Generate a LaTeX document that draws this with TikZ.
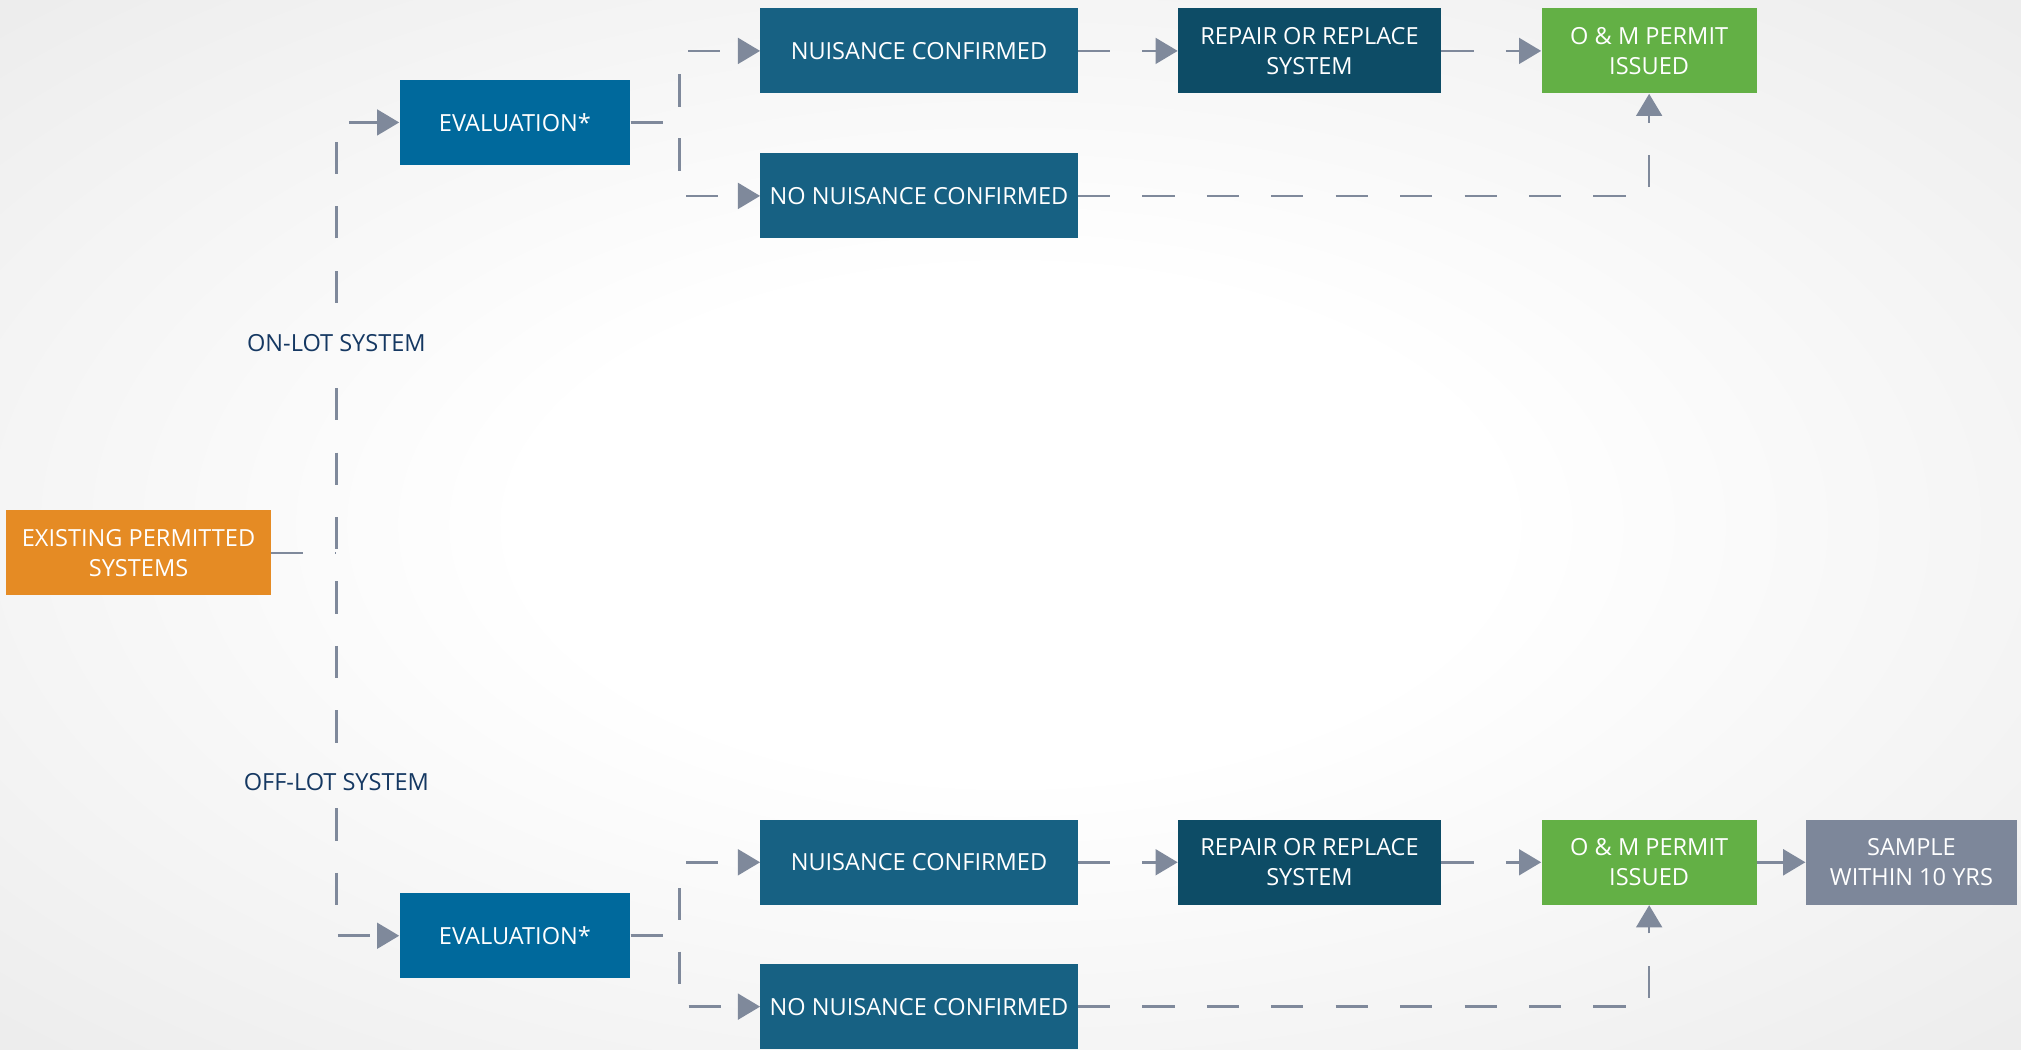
\documentclass[tikz,border=0pt]{standalone}
\usepackage{fontspec}
\setmainfont{Open Sans}
\usetikzlibrary{arrows.meta,positioning}

\definecolor{bgedge}{RGB}{236,236,236}
\definecolor{existorange}{RGB}{229,139,36}
\definecolor{evalblue}{RGB}{0,105,156}
\definecolor{nuisblue}{RGB}{23,97,131}
\definecolor{repairblue}{RGB}{13,76,102}
\definecolor{permitgreen}{RGB}{99,176,69}
\definecolor{samplegray}{RGB}{125,135,154}
\definecolor{linkgray}{RGB}{127,137,155}
\definecolor{lblnavy}{RGB}{21,56,98}
\pgfdeclareradialshading{bgradial}{\pgfpoint{0bp}{0bp}}{color(0bp)=(white); color(12bp)=(white); color(36bp)=(bgedge); color(50bp)=(bgedge)}

\begin{document}
\begin{tikzpicture}[x=0.25mm,y=-0.25mm,
		box/.style={fill=#1,text=white,inner sep=0pt,minimum height=16.5mm,align=center,font=\fontsize{13}{16.4}\selectfont},
		link/.style={draw=linkgray,line width=0.5mm,dash pattern=on 6.25mm off 6.25mm},
		arr/.style={-{Triangle[length=4.3mm,width=5mm]}},
		lbl/.style={text=lblnavy,inner xsep=1pt,inner ysep=2pt,text height=10pt,text depth=0pt,font=\fontsize{13}{16}\selectfont}]

		% background
		\shade[shading=bgradial] (0,0) rectangle (1568,814);
		\useasboundingbox (0,0) rectangle (1568,814);

		% start
		\node[box=existorange,minimum width=51.25mm] (exist) at (107.5,429) {EXISTING PERMITTED\\SYSTEMS};
		\node[lbl] (onlot) at (261,266) {ON-LOT SYSTEM};
		\node[lbl] (offlot) at (261,606) {OFF-LOT SYSTEM};

		%---------------------
		% on-lot
		%---------------------
		\node[box=evalblue,minimum width=44.75mm] (eval1) at (399.5,95) {EVALUATION*};
		\node[box=nuisblue,minimum width=61.5mm] (nc1) at (713,39.5) {NUISANCE CONFIRMED};
		\node[box=nuisblue,minimum width=61.5mm] (nn1) at (713,152) {NO NUISANCE CONFIRMED};
		\node[box=repairblue,minimum width=51mm] (rep1) at (1016,39.5) {REPAIR OR REPLACE\\SYSTEM};
		\node[box=permitgreen,minimum width=41.75mm] (om1) at (1279.5,39.5) {O \& M PERMIT\\ISSUED};
		\coordinate (split1) at (527,95);

		%---------------------
		% off-lot
		%---------------------
		\node[box=evalblue,minimum width=44.75mm] (eval2) at (399.5,726) {EVALUATION*};
		\node[box=nuisblue,minimum width=61.5mm] (nc2) at (713,669) {NUISANCE CONFIRMED};
		\node[box=nuisblue,minimum width=61.5mm] (nn2) at (713,781) {NO NUISANCE CONFIRMED};
		\node[box=repairblue,minimum width=51mm] (rep2) at (1016,669) {REPAIR OR REPLACE\\SYSTEM};
		\node[box=permitgreen,minimum width=41.75mm] (om2) at (1279.5,669) {O \& M PERMIT\\ISSUED};
		\node[box=samplegray,minimum width=41mm] (sample) at (1483,669) {SAMPLE\\WITHIN 10 YRS};
		\coordinate (split2) at (527,726);

		% trunk
		\draw[link] (exist.east) -- (exist.east -| onlot);
		\draw[link,arr,dash phase=7.25mm] (onlot.north) -- (onlot |- eval1) -- (eval1.west);
		\draw[link,dash phase=6.25mm] (onlot.south) -- (offlot.north);
		\draw[link,arr,dash phase=9.75mm] (offlot.south) -- (offlot |- eval2) -- (eval2.west);

		% on-lot links
		\draw[link,arr] (eval1.east) -- (split1) |- (nc1.west);
		\draw[link,arr] (eval1.east) -- (split1) |- (nn1.west);
		\draw[link,arr] (nc1) -- (rep1);
		\draw[link,arr] (rep1) -- (om1);
		\draw[link,arr] (nn1.east) -| (om1.south);

		% off-lot links
		\draw[link,arr] (eval2.east) -- (split2) |- (nc2.west);
		\draw[link,arr] (eval2.east) -- (split2) |- (nn2.west);
		\draw[link,arr] (nc2) -- (rep2);
		\draw[link,arr] (rep2) -- (om2);
		\draw[link,arr] (nn2.east) -| (om2.south);
		\draw[draw=linkgray,line width=0.5mm,arr] (om2) -- (sample);

\end{tikzpicture}
\end{document}
